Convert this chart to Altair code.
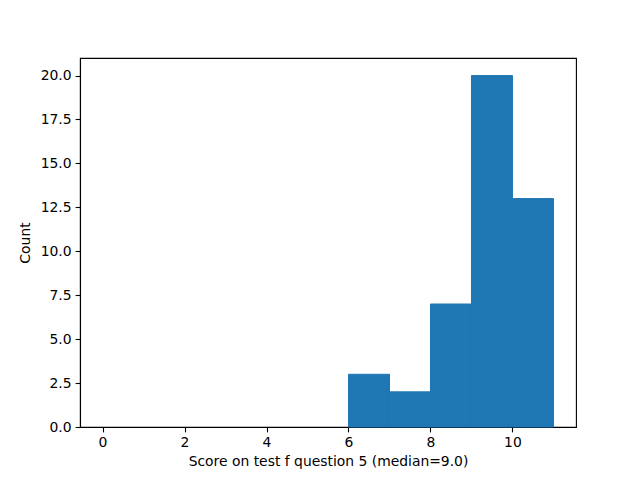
import altair as alt
import pandas as pd

bin_start = [6, 7, 8, 9, 10]
bin_end = [7, 8, 9, 10, 11]
counts = [3, 2, 7, 20, 13]

df = pd.DataFrame({"start": bin_start, "end": bin_end, "count": counts, "base": [0] * len(counts)})

font = "DejaVu Sans"

chart = alt.Chart(df).mark_bar(color="#1f77b4", stroke="#1f77b4", strokeWidth=1.0,
                               opacity=1, fillOpacity=1, strokeOpacity=1).encode(
    x=alt.X("start:Q", scale=alt.Scale(domain=[-0.55, 11.55], nice=False, zero=False),
            axis=alt.Axis(values=[0, 2, 4, 6, 8, 10], format="d",
                          title="Score on test f question 5 (median=9.0)")),
    x2="end:Q",
    y=alt.Y("count:Q", scale=alt.Scale(domain=[0, 21], nice=False),
            axis=alt.Axis(values=[0, 2.5, 5, 7.5, 10, 12.5, 15, 17.5, 20], format=".1f",
                          title="Count", titlePadding=8)),
    y2="base:Q",
).properties(
    width=496, height=369,
    autosize=alt.AutoSizeParams(type="none"),
    padding={"left": 72, "top": 50, "right": 56, "bottom": 45},
).configure_view(
    stroke="black", strokeWidth=1.1
).configure_axis(
    grid=False,
    domainColor="black", domainWidth=1.1,
    tickColor="black", tickSize=4.9, tickWidth=1.1,
    labelFont=font, labelFontSize=13.9, labelColor="black", labelPadding=4,
    titleFont=font, titleFontSize=13.9, titleColor="black", titleFontWeight="normal",
    titlePadding=5,
)

chart.save("out.html", embed_options={"renderer": "svg", "actions": False})
